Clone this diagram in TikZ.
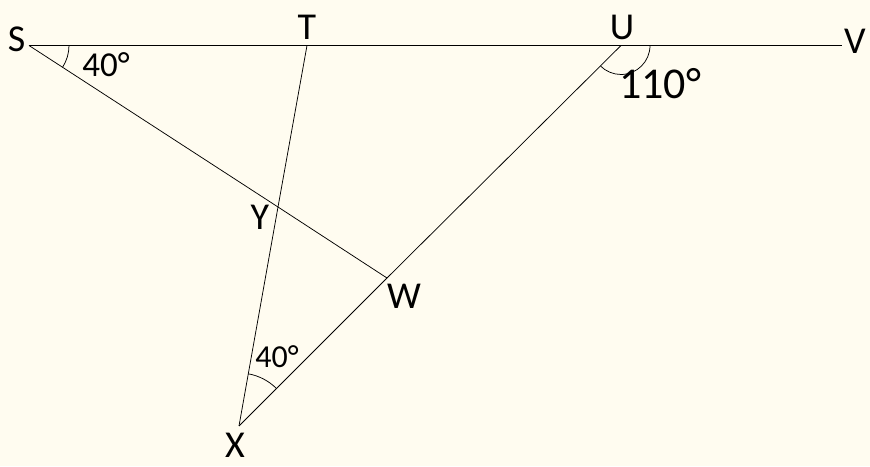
\documentclass[tikz,border=0pt]{standalone}
\usepackage{fontspec}
\setmainfont{Carlito}
\usetikzlibrary{calc}
\definecolor{bg}{RGB}{255,252,240}
\begin{document}
\begin{tikzpicture}[x=1pt,y=1pt,
  lbl/.style={inner sep=0pt,font=\fontsize{38}{38}\selectfont},
  seg/.style={line width=0.75pt},
  main/.style={line width=1.3pt},
  arcline/.style={line width=0.75pt}]
\path[use as bounding box,fill=bg] (0,0) rectangle (870,466);
\coordinate (S) at (29,420.5);
\coordinate (T) at (307,420.5);
\coordinate (U) at (621,420.5);
\coordinate (V) at (842,420.5);
\coordinate (W) at (387,188);
\coordinate (X) at (239,40);
\coordinate (Y) at (278,259);
\draw[main] (S) -- (V);
\draw[seg] (S) -- (Y) -- (W);
\draw[seg] (X) -- (Y) -- (T);
\draw[seg] (X) -- (W) -- (U);
\draw[arcline] ([shift={(0:40pt)}]S) arc[start angle=0,end angle=-33.06,radius=40pt];
\draw[arcline] ([shift={(0:29pt)}]U) arc[start angle=0,end angle=-135,radius=29pt];
\draw[arcline] ([shift={(44.9:53pt)}]X) arc[start angle=44.9,end angle=79.9,radius=53pt];
\node[lbl] (lS) at (16.5,426.5) {S};
\node[lbl] (lT) at (307,439) {T};
\node[lbl] (lU) at (622,439) {U};
\node[lbl] (lV) at (855,425) {V};
\node[lbl] (lX) at (235,21) {X};
\node[lbl] (lY) at (260,249) {Y};
\node[lbl] (lW) at (404,170) {W};
\node[lbl,font=\fontsize{35}{35}\selectfont] (aS) at (106,401) {40°};
\node[lbl,font=\fontsize{44}{44}\selectfont] (aU) at (660,382) {110°};
\node[lbl,font=\fontsize{32}{32}\selectfont] (aX) at (277,109) {40°};
\end{tikzpicture}
\end{document}
